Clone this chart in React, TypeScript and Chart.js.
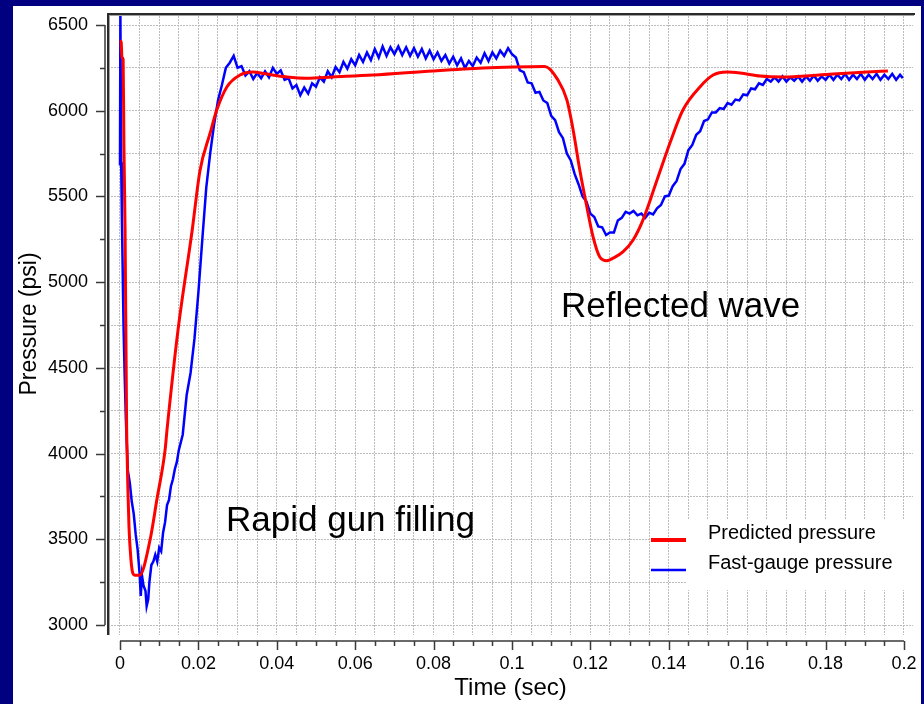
import React, { useEffect, useRef } from "react";
import { Chart, registerables } from "chart.js";

Chart.register(...registerables);

const FONT = "'Liberation Sans', Arial, Helvetica, sans-serif";

// Predicted pressure (red) — time in ms, pressure in psi
const predictedTimeMs = [
  0, 0.3, 0.5, 0.8, 1.0, 1.3, 1.7, 1.8, 2.0, 2.3,
  2.8, 3.3, 3.8, 5.0, 7.7, 9.4, 11.5, 12.0, 14.8, 18.4,
  20.4, 23.0, 24.7, 27.3, 30.6, 33.9, 37.0, 42.6, 47.7, 54.3,
  64.5, 79.8, 92.6, 100.3, 108.4, 111.7, 114.0, 115.6, 117.3, 119.1,
  120.7, 122.4, 124.2, 125.8, 128.3, 130.9, 133.4, 137.0, 140.3, 143.6,
  148.0, 151.3, 154.8, 158.2, 163.3, 169.1, 181.9, 190.6, 195.9,
];
const predictedPsi = [
  6410, 6400, 6310, 6300, 5800, 5300, 4140, 4020, 3805, 3570,
  3380, 3300, 3290, 3290, 3500, 3730, 4020, 4140, 4720, 5300,
  5650, 5870, 6005, 6140, 6208, 6226, 6215, 6197, 6190, 6197,
  6208, 6232, 6249, 6255, 6258, 6180, 6063, 5888, 5654, 5438,
  5263, 5147, 5125, 5140, 5176, 5246, 5362, 5596, 5812, 6004,
  6140, 6208, 6226, 6220, 6202, 6197, 6214, 6226, 6232,
];

// Fast-gauge pressure (blue) — time in ms, pressure in psi
const fastTimeMs = [
  0, 0.1, 0.3, 0.5, 0.7, 0.9, 1.2, 1.5, 2.0, 2.5,
  3.0, 3.5, 4.0, 4.5, 5.0, 5.3, 5.6, 6.0, 6.5, 6.8,
  7.2, 7.5, 8.0, 8.5, 9.0, 9.5, 10.0, 10.5, 11.0, 11.5,
  12.0, 12.5, 13.0, 13.5, 14.0, 14.5,
  15, 16, 17, 18, 19, 20, 21, 22, 23, 24,
  25, 26, 27, 28, 29, 30, 31, 32, 33, 34,
  35, 36, 37, 38, 39, 40, 41, 42, 43, 44,
  45, 46, 47, 48, 49, 50, 51, 52, 53, 54,
  55, 56, 57, 58, 59, 60, 61, 62, 63, 64,
  65, 66, 67, 68, 69, 70, 71, 72, 73, 74,
  75, 76, 77, 78, 79, 80, 81, 82, 83, 84,
  85, 86, 87, 88, 89, 90, 91, 92, 93, 94,
  95, 96, 97, 98, 99, 100, 101, 102, 103, 104,
  105, 106, 107, 108, 109, 110, 111, 112, 113, 114,
  115, 116, 117, 118, 119, 120, 121, 122, 123, 124,
  125, 126, 127, 128, 129, 130, 131, 132, 133, 134,
  135, 136, 137, 138, 139, 140, 141, 142, 143, 144,
  145, 146, 147, 148, 149, 150, 151, 152, 153, 154,
  155, 156, 157, 158, 159, 160, 161, 162, 163, 164,
  165, 166, 167, 168, 169, 170, 171, 172, 173, 174,
  175, 176, 177, 178, 179, 180, 181, 182, 183, 184,
  185, 186, 187, 188, 189, 190, 191, 192, 193, 194,
  195, 196, 197, 198, 199, 199.7,
];
const fastPsi = [
  5680, 6560, 5700, 5350, 5050, 4750, 4450, 4200, 3900, 3830,
  3720, 3650, 3530, 3440, 3300, 3170, 3290, 3230, 3200, 3110,
  3150, 3250, 3350, 3370, 3410, 3370, 3450, 3430, 3540, 3600,
  3700, 3730, 3810, 3850, 3910, 3950,
  4020, 4110, 4340, 4470, 4670, 4940, 5250, 5550, 5750, 5920,
  6060, 6150, 6250, 6280, 6320, 6250, 6260, 6205, 6230, 6185,
  6220, 6190, 6230, 6195, 6250, 6215, 6235, 6180, 6190, 6130,
  6150, 6090, 6135, 6100, 6160, 6140, 6195, 6170, 6230, 6195,
  6255, 6225, 6285, 6245, 6300, 6265, 6325, 6285, 6340, 6295,
  6360, 6310, 6375, 6320, 6370, 6330, 6375, 6325, 6370, 6320,
  6365, 6315, 6360, 6305, 6350, 6300, 6340, 6290, 6325, 6275,
  6315, 6265, 6305, 6250, 6290, 6260, 6310, 6280, 6335, 6290,
  6340, 6305, 6350, 6320, 6365, 6330, 6310, 6235, 6225, 6165,
  6160, 6105, 6110, 6060, 6045, 5970, 5945, 5875, 5840, 5750,
  5710, 5630, 5570, 5500, 5470, 5400, 5380, 5325, 5320, 5275,
  5290, 5290, 5360, 5375, 5410, 5400, 5415, 5390, 5400, 5375,
  5405, 5395, 5430, 5450, 5500, 5505, 5560, 5590, 5660, 5690,
  5770, 5800, 5860, 5880, 5940, 5950, 5990, 5990, 6015, 6010,
  6045, 6035, 6065, 6060, 6095, 6090, 6130, 6125, 6160, 6150,
  6185, 6170, 6195, 6170, 6200, 6170, 6195, 6175, 6200, 6170,
  6200, 6175, 6205, 6175, 6200, 6180, 6210, 6180, 6210, 6185,
  6215, 6180, 6210, 6185, 6215, 6180, 6210, 6185, 6215, 6180,
  6210, 6185, 6215, 6180, 6210, 6190,
];

// Axis ticks
const xTickValues = Array.from({ length: 41 }, (_, i) => i * 0.005);
const yTickValues = Array.from({ length: 15 }, (_, i) => 3000 + i * 250);

const seriesLabels = ["Predicted pressure", "Fast-gauge pressure"];
const seriesColors = ["#ff0000", "#0000ff"];
const annotationTexts = ["Rapid gun filling", "Reflected wave"];

const decorPlugin = {
  id: "decor",
  beforeDraw(chart: any) {
    const ctx = chart.ctx;
    ctx.save();
    ctx.fillStyle = "#000080";
    ctx.fillRect(0, 0, chart.width, chart.height);
    ctx.fillStyle = "#ffffff";
    ctx.fillRect(13, 6, 908, chart.height - 6);
    ctx.restore();
  },
  afterDraw(chart: any) {
    const { ctx, chartArea: a, scales } = chart;
    const xs = scales.x;
    const ys = scales.y;
    ctx.save();

    // Legend (white box behind labels)
    ctx.fillStyle = "#ffffff";
    ctx.fillRect(687, 520, 226, 70);
    const rows = [540, 570];
    const widths = [4, 2.5];
    ctx.font = `20px ${FONT}`;
    ctx.textAlign = "left";
    ctx.textBaseline = "middle";
    chart.data.datasets.forEach((ds: any, i: number) => {
      ctx.strokeStyle = ds.borderColor;
      ctx.lineWidth = widths[i];
      ctx.beginPath();
      ctx.moveTo(651, rows[i]);
      ctx.lineTo(686, rows[i]);
      ctx.stroke();
      ctx.fillStyle = "#000";
      ctx.fillText(ds.label, 708, rows[i] - 7);
    });

    // Annotations
    ctx.font = `35px ${FONT}`;
    ctx.fillStyle = "#000";
    ctx.fillText(annotationTexts[0], 226, 521);
    ctx.fillText(annotationTexts[1], 561, 307);

    // Plot frame (top and left double lines)
    ctx.fillStyle = "#2a2a2a";
    ctx.fillRect(a.left - 1, a.top, a.right - a.left + 3, 2);
    ctx.fillRect(a.left - 1, a.top, 2, a.bottom - a.top);
    ctx.fillStyle = "#a0a0a0";
    ctx.fillRect(a.left + 1, a.top + 2, a.right - a.left, 1);
    ctx.fillRect(a.left + 1, a.top + 2, 1, a.bottom - a.top - 2);

    // Offset axes
    ctx.strokeStyle = "#3a3a3a";
    ctx.lineWidth = 1.5;
    const axX = a.left - 3;
    const yTop = ys.getPixelForValue(yTickValues[yTickValues.length - 1]);
    const yBot = ys.getPixelForValue(yTickValues[0]);
    ctx.beginPath();
    ctx.moveTo(axX, yTop);
    ctx.lineTo(axX, yBot);
    yTickValues.forEach((v) => {
      const py = Math.round(ys.getPixelForValue(v)) + 0.5;
      const len = v % 500 === 0 ? 9 : 5;
      ctx.moveTo(axX, py);
      ctx.lineTo(axX - len, py);
    });
    ctx.stroke();

    const axY = a.bottom + 6;
    const xL = xs.getPixelForValue(xTickValues[0]);
    const xR = xs.getPixelForValue(xTickValues[xTickValues.length - 1]);
    ctx.beginPath();
    ctx.moveTo(xL, axY);
    ctx.lineTo(xR, axY);
    xTickValues.forEach((v, i) => {
      const px = Math.round(xs.getPixelForValue(v)) + 0.5;
      const len = i % 4 === 0 ? 9 : 5;
      ctx.moveTo(px, axY);
      ctx.lineTo(px, axY + len);
    });
    ctx.stroke();

    ctx.restore();
  },
};

export default function App() {
  const canvasRef = useRef<HTMLCanvasElement | null>(null);

  useEffect(() => {
    if (!canvasRef.current) return;
    const chart = new Chart(canvasRef.current, {
      type: "line",
      data: {
        datasets: [
          {
            label: seriesLabels[0],
            data: predictedTimeMs.map((t, i) => ({ x: t / 1000, y: predictedPsi[i] })),
            borderColor: seriesColors[0],
            borderWidth: 3,
            pointRadius: 0,
            cubicInterpolationMode: "monotone",
            fill: false,
          },
          {
            label: seriesLabels[1],
            data: fastTimeMs.map((t, i) => ({ x: t / 1000, y: fastPsi[i] })),
            borderColor: seriesColors[1],
            borderWidth: 2.5,
            pointRadius: 0,
            tension: 0,
            fill: false,
          },
        ],
      },
      options: {
        animation: false,
        responsive: false,
        devicePixelRatio: 1,
        events: [],
        layout: { padding: { left: 13, top: 13, right: 11, bottom: 0 } },
        plugins: {
          legend: { display: false },
          tooltip: { enabled: false },
        },
        scales: {
          x: {
            type: "linear",
            min: -0.00306,
            max: 0.2023,
            afterBuildTicks: (s: any) => {
              s.ticks = xTickValues.map((v) => ({ value: v }));
            },
            afterFit: (s: any) => {
              s.height = 69;
            },
            grid: {
              color: "#bcbcbc",
              lineWidth: 1,
              drawTicks: true,
              tickLength: 18,
              tickColor: "rgba(0,0,0,0)",
            },
            border: { display: false, dash: [2, 1] },
            ticks: {
              autoSkip: false,
              maxRotation: 0,
              minRotation: 0,
              padding: 0,
              color: "#000",
              font: { family: FONT, size: 18 },
              callback: (v: any, i: number) =>
                i % 4 === 0 ? String(Number(Number(v).toFixed(3))) : "",
            },
            title: {
              display: true,
              text: "Time (sec)",
              color: "#000",
              font: { family: FONT, size: 24 },
              padding: { top: 0, bottom: 1 },
            },
          },
          y: {
            type: "linear",
            min: 2941.7,
            max: 6570,
            afterBuildTicks: (s: any) => {
              s.ticks = yTickValues.map((v) => ({ value: v }));
            },
            afterFit: (s: any) => {
              s.width = 95;
            },
            grid: {
              color: "#bcbcbc",
              lineWidth: 1,
              drawTicks: true,
              tickLength: 20,
              tickColor: "rgba(0,0,0,0)",
            },
            border: { display: false, dash: [2, 1] },
            ticks: {
              autoSkip: false,
              padding: 0,
              color: "#000",
              font: { family: FONT, size: 18 },
              callback: (v: any) => (Number(v) % 500 === 0 ? String(v) : ""),
            },
            title: {
              display: true,
              text: "Pressure (psi)",
              color: "#000",
              font: { family: FONT, size: 23 },
              padding: { top: 3, bottom: 0 },
            },
          },
        },
      },
      plugins: [decorPlugin],
    });
    return () => chart.destroy();
  }, []);

  return (
    <div style={{ position: "absolute", left: 0, top: 0, width: 924, height: 704 }}>
      <canvas ref={canvasRef} width={924} height={704} style={{ display: "block" }} />
    </div>
  );
}
